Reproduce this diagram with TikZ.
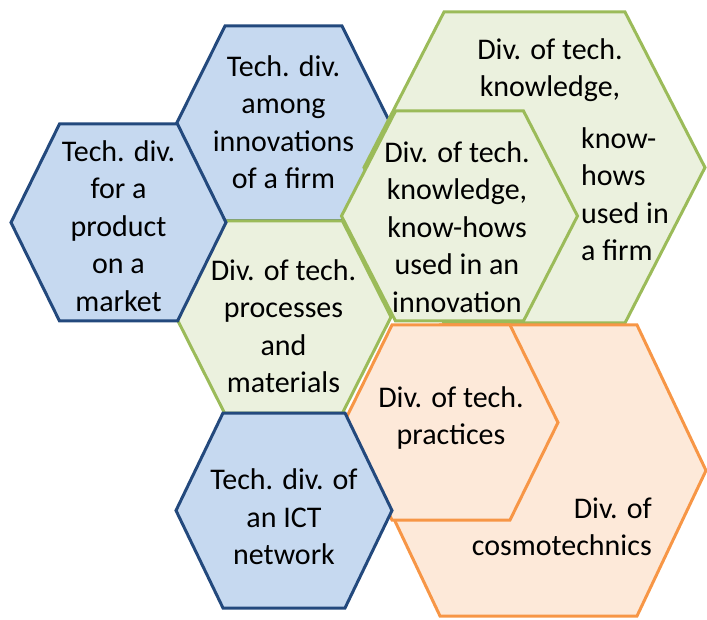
\documentclass[tikz,border=0pt]{standalone}
\usepackage{fontspec}
\setmainfont{Carlito}
\definecolor{lineblue}{HTML}{23497D}
\definecolor{fillblue}{HTML}{C6D9F0}
\definecolor{linegreen}{HTML}{9BBB59}
\definecolor{fillgreen}{HTML}{EBF1DE}
\definecolor{lineorange}{HTML}{F79646}
\definecolor{fillorange}{HTML}{FDE9D9}
% hexagon with flat top: style, centre x, centre y, half width, half height, half top edge
\newcommand{\hexcell}[6]{%
  \draw[#1] (#2-#6,#3-#5) -- (#2+#6,#3-#5) -- (#2+#4,#3) -- (#2+#6,#3+#5)
    -- (#2-#6,#3+#5) -- (#2-#4,#3) -- cycle;}
\begin{document}
\begin{tikzpicture}[x=1pt,y=-1pt,
  bluehex/.style={draw=lineblue,fill=fillblue,line width=3pt},
  greenhex/.style={draw=linegreen,fill=fillgreen,line width=3pt},
  orangehex/.style={draw=lineorange,fill=fillorange,line width=3pt},
  txt/.style={align=center,inner sep=0pt,font=\fontsize{30}{37.5}\selectfont}]
\useasboundingbox (0,0) rectangle (707,620);
% cells, back to front
\hexcell{bluehex}{283.5}{123.5}{107}{97.5}{58.5}
\hexcell{greenhex}{534.5}{167.5}{170.5}{155.5}{90.5}
\hexcell{greenhex}{283.5}{317}{107.5}{96}{59}
\hexcell{greenhex}{459.5}{216}{118}{105}{64}
\hexcell{bluehex}{118.5}{222.5}{107.5}{98.5}{59}
\hexcell{orangehex}{538.5}{470.5}{167.5}{145.5}{98.5}
\hexcell{orangehex}{451}{422.5}{107}{97.5}{59}
\hexcell{bluehex}{284}{510.5}{108}{97.5}{61}
% texts
\node[txt] (market) at (118.5,226) {Tech. div.\\for a\\product\\on a\\market};
\node[txt] (firminno) at (283.5,122) {Tech. div.\\among\\innovations\\of a firm};
\node[txt] (process) at (283.5,326) {Div. of tech.\\processes\\and\\materials};
\node[txt] (ict) at (284,517) {Tech. div. of\\an ICT\\network};
\node[txt] (innoknow) at (457,227) {Div. of tech.\\knowledge,\\know-hows\\used in an\\innovation};
\node[txt] (firmknow) at (550,70) {Div. of tech.\\knowledge,};
\node[txt,align=left,anchor=west] (firmhow) at (581,194) {know-\\hows\\used in\\a firm};
\node[txt] (practice) at (451,418) {Div. of tech.\\practices};
\node[txt,align=right,anchor=east] (cosmo) at (652,527) {Div. of\\cosmotechnics};
\end{tikzpicture}
\end{document}
